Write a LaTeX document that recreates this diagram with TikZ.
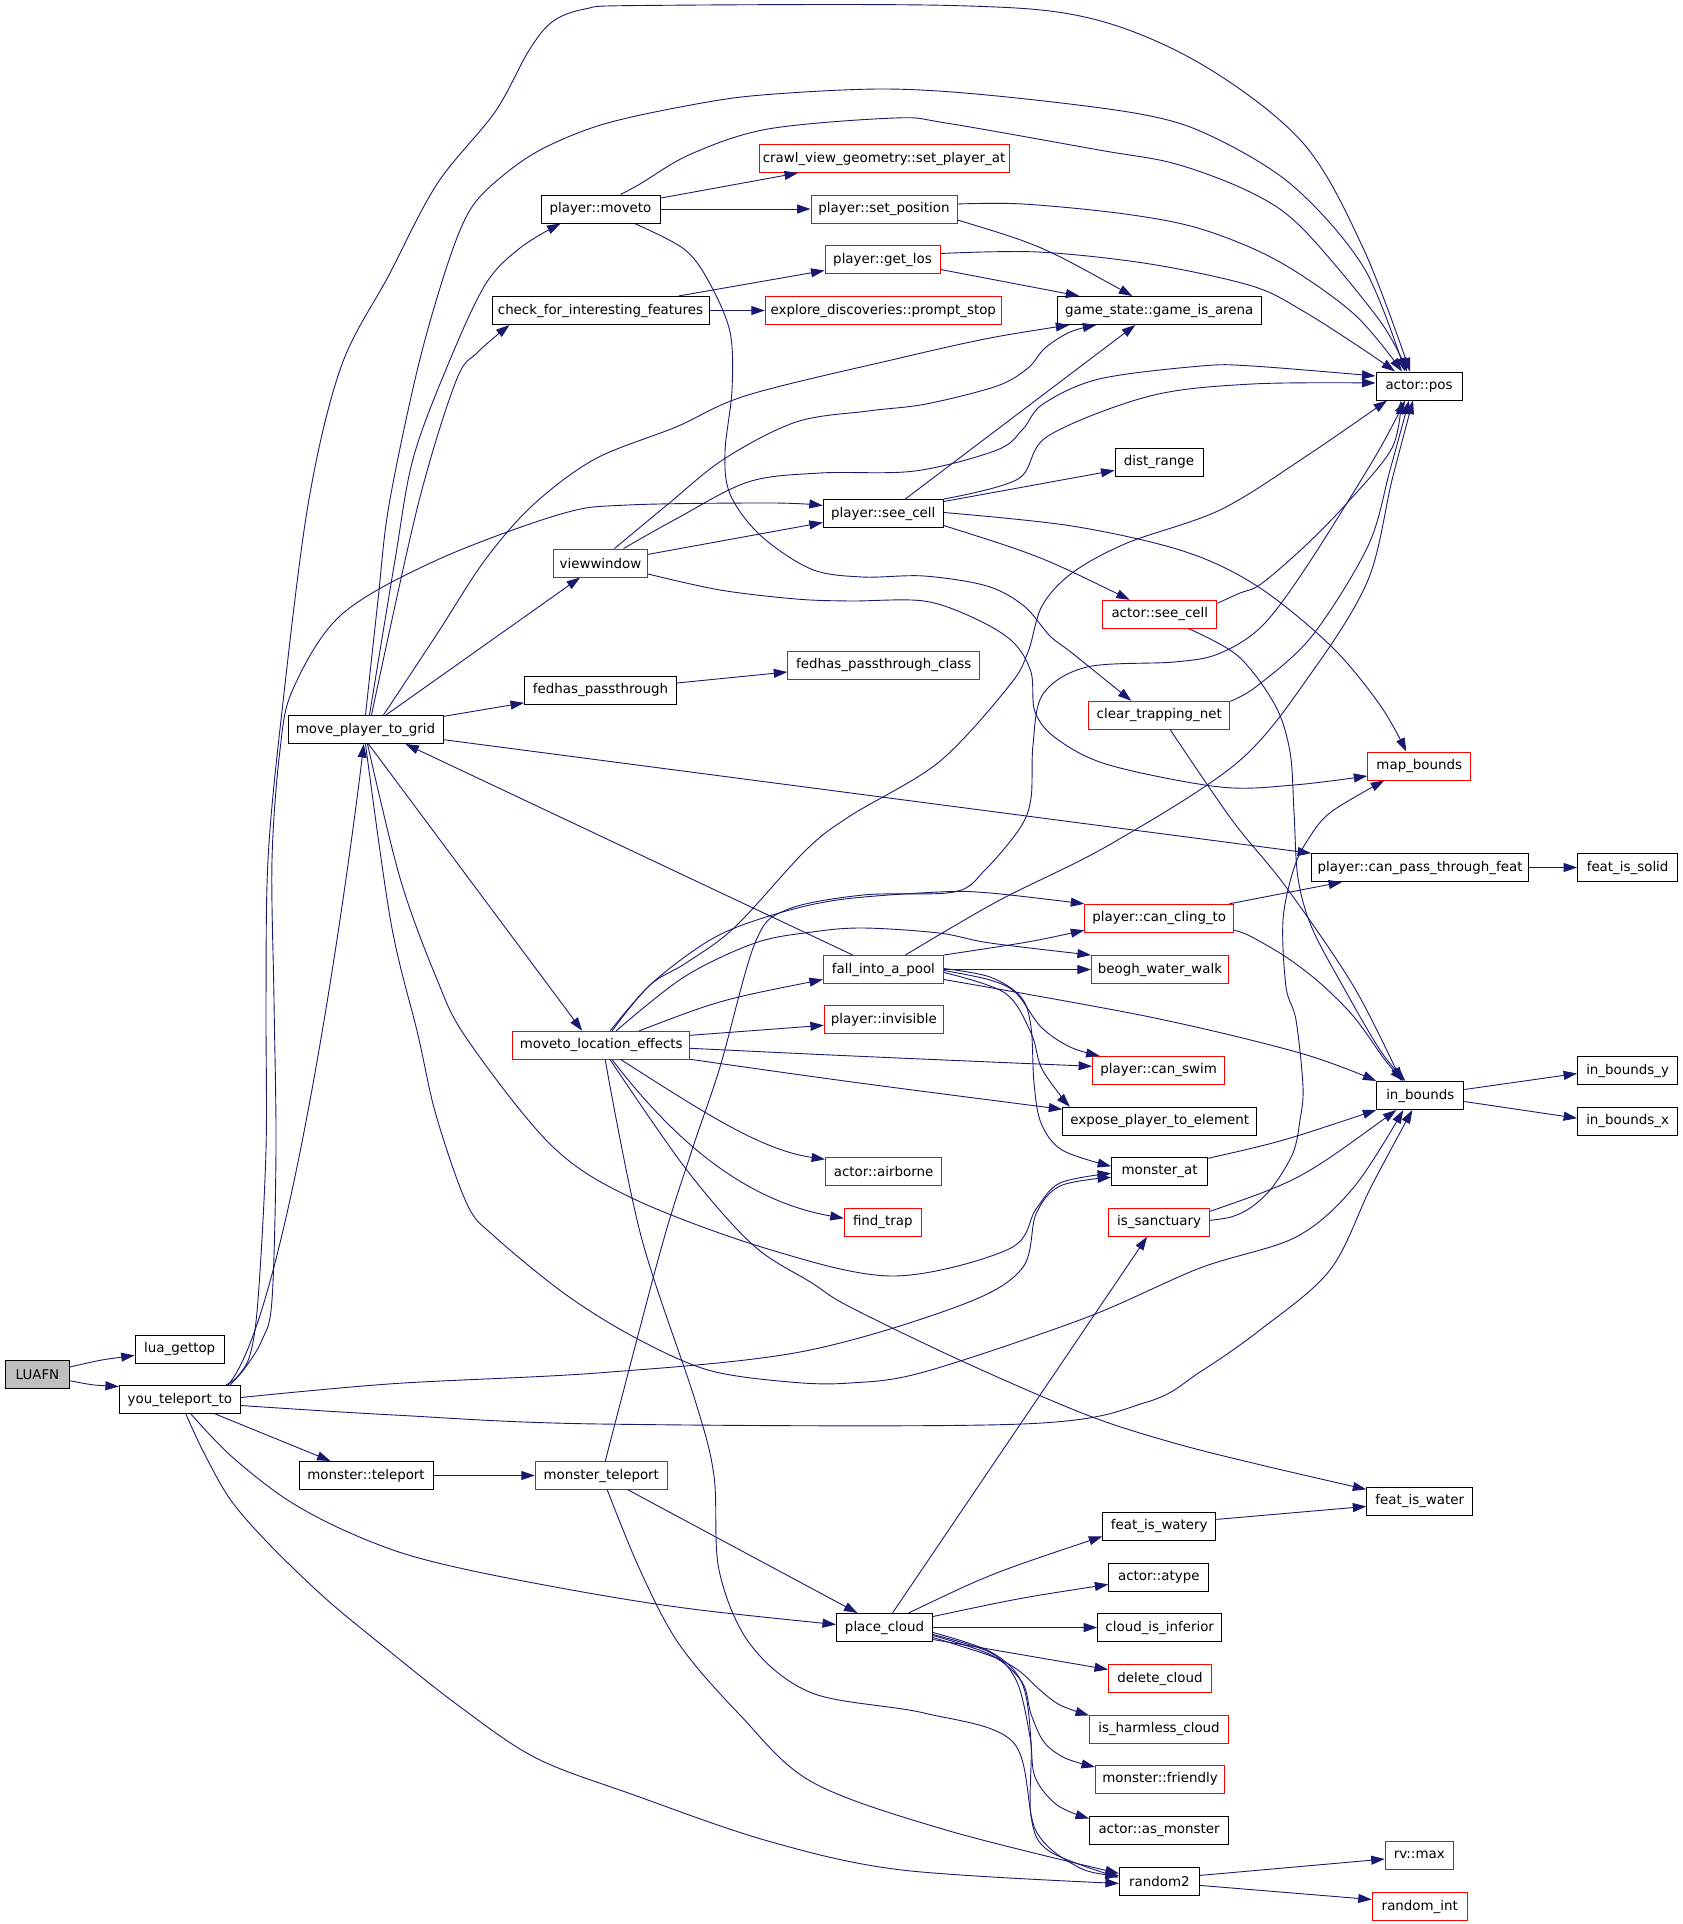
\documentclass[tikz,border=0pt]{standalone}
\usepackage{fontspec}
\newfontfamily\fnfont{DejaVu Sans}
\usetikzlibrary{arrows.meta}
\definecolor{edgeblue}{RGB}{25,25,112}
\definecolor{boxred}{RGB}{255,0,0}
\tikzset{
  fn/.style={draw=black, line width=1pt, minimum height=28pt, inner sep=0pt, text=black,
             font=\fnfont\fontsize{13.4}{15}\selectfont},
  rfn/.style={fn, draw=boxred},
  e/.style={draw=edgeblue, line width=0.9pt, -{Triangle[length=13.5pt,width=9pt]}},
  sm/.style={smooth, tension=0.55}
}
\begin{document}
\begin{tikzpicture}[x=1pt,y=-1pt]
\fill[white] (0,0) rectangle (1683,1924);
\useasboundingbox (0,0) rectangle (1683,1924);

% nodes
\node[fn, fill=black!25, minimum width=64pt] (LUAFN) at (37.5,1374.5) {LUAFN};
\node[fn, minimum width=89pt] (gettop) at (179.7,1349.4) {lua\_gettop};
\node[fn, minimum width=121pt] (ytele) at (179.9,1399.5) {you\_teleport\_to};
\node[fn, minimum width=134pt] (mtele) at (366,1475.5) {monster::teleport};
\node[rfn, minimum width=132pt] (mteleport) at (601.3,1475.5) {monster\_teleport};
\node[fn, minimum width=96pt] (place) at (884.5,1627.5) {place\_cloud};
\node[fn, minimum width=155pt] (mptg) at (365.5,729.5) {move\_player\_to\_grid};
\node[fn, minimum width=119pt] (moveto) at (600.5,209) {player::moveto};
\node[fn, minimum width=217pt] (cfif) at (600.5,310.5) {check\_for\_interesting\_features};
\node[rfn, minimum width=94pt] (viewwin) at (600.5,563) {viewwindow};
\node[fn, minimum width=152pt] (fedhas) at (600.5,690) {fedhas\_passthrough};
\node[rfn, minimum width=177pt] (mle) at (601.2,1045.3) {moveto\_location\_effects};
\node[rfn, minimum width=250pt] (cvg) at (884,158.5) {crawl\_view\_geometry::set\_player\_at};
\node[rfn, minimum width=146pt] (setpos) at (884,209) {player::set\_position};
\node[rfn, minimum width=115pt] (getlos) at (882.5,259.5) {player::get\_los};
\node[rfn, minimum width=236pt] (prompt) at (883.3,310.5) {explore\_discoveries::prompt\_stop};
\node[fn, minimum width=204pt] (arena) at (1159.3,310.5) {game\_state::game\_is\_arena};
\node[fn, minimum width=86pt] (pos) at (1419,386) {actor::pos};
\node[fn, minimum width=120pt] (seecell) at (883.3,513.5) {player::see\_cell};
\node[fn, minimum width=88pt] (dist) at (1159,462.4) {dist\_range};
\node[rfn, minimum width=114pt] (aseecell) at (1159.8,614.3) {actor::see\_cell};
\node[rfn, minimum width=192pt] (fpclass) at (883.8,665) {fedhas\_passthrough\_class};
\node[rfn, minimum width=141pt] (ctn) at (1159.3,715.3) {clear\_trapping\_net};
\node[rfn, minimum width=103pt] (mapb) at (1419.3,766) {map\_bounds};
\node[fn, minimum width=217pt] (cpf) at (1420.1,867.5) {player::can\_pass\_through\_feat};
\node[fn, minimum width=100pt] (solid) at (1627.6,867.5) {feat\_is\_solid};
\node[rfn, minimum width=149pt] (cling) at (1159.3,918.3) {player::can\_cling\_to};
\node[rfn, minimum width=120pt] (pool) at (883.4,969.5) {fall\_into\_a\_pool};
\node[rfn, minimum width=137pt] (beogh) at (1159.9,969.5) {beogh\_water\_walk};
\node[rfn, minimum width=119pt] (invis) at (883.9,1019.3) {player::invisible};
\node[rfn, minimum width=132pt] (swim) at (1158.6,1070.3) {player::can\_swim};
\node[fn, minimum width=194pt] (expose) at (1159.8,1121.3) {expose\_player\_to\_element};
\node[fn, minimum width=87pt] (inb) at (1420.3,1095.5) {in\_bounds};
\node[fn, minimum width=100pt] (inby) at (1627.6,1070.5) {in\_bounds\_y};
\node[fn, minimum width=100pt] (inbx) at (1627.6,1121.2) {in\_bounds\_x};
\node[rfn, minimum width=116pt] (airb) at (883.6,1171.3) {actor::airborne};
\node[fn, minimum width=96pt] (mat) at (1159.6,1171.3) {monster\_at};
\node[rfn, minimum width=77pt] (ftrap) at (882.8,1222.3) {find\_trap};
\node[rfn, minimum width=101pt] (sanct) at (1159.1,1222.3) {is\_sanctuary};
\node[fn, minimum width=106pt] (water) at (1419.8,1501.4) {feat\_is\_water};
\node[fn, minimum width=113pt] (watery) at (1159.3,1526.4) {feat\_is\_watery};
\node[fn, minimum width=100pt] (atype) at (1158.8,1577.4) {actor::atype};
\node[fn, minimum width=124pt] (inferior) at (1159.7,1627.5) {cloud\_is\_inferior};
\node[rfn, minimum width=103pt] (delcloud) at (1160,1678.5) {delete\_cloud};
\node[rfn, minimum width=139pt] (harmless) at (1159,1729.4) {is\_harmless\_cloud};
\node[rfn, minimum width=129pt] (friendly) at (1160,1779) {monster::friendly};
\node[fn, minimum width=139pt] (asmon) at (1159,1830.5) {actor::as\_monster};
\node[fn, minimum width=80pt] (random2) at (1159.4,1881.4) {random2};
\node[rfn, minimum width=68pt] (rvmax) at (1419.2,1855) {rv::max};
\node[rfn, minimum width=95pt] (rint) at (1419.8,1906.5) {random\_int};

% edges
\draw[e] (LUAFN) .. controls (100,1360) .. (gettop);
\draw[e] (LUAFN) .. controls (92,1385) .. ([yshift=13pt]ytele.west);
\draw[e] ([xshift=48pt]ytele.north) .. controls (285,1320) and (345,900) .. (mptg);
\draw[e] plot[sm] coordinates {([xshift=46pt]ytele.north) (237,1377) (250,1355) (258,1300) (266,1150) (266,1000) (268,860) (281,720) (308,505) (341,367) (389,275) (437,184) (495,112) (528,52) (552,22) (585,9) (640,5.5) (951,5.5) (1089,18) (1201,64) (1303,143) (1364,250) ([xshift=-9pt]pos.north)};
\draw[e] plot[sm] coordinates {([xshift=50pt]ytele.north) (245,1368) (262,1340) (272,1300) (276,1150) (274,1000) (272,860) (280,750) (293,689) (341,615) (437,560) (561,514) (628,505) (772,503) ([yshift=8pt]seecell.west)};
\draw[e] plot[sm] coordinates {([yshift=2pt]ytele.east) (394,1383.6) (600,1372.8) (800,1352) (960,1305.5) (1022,1268.5) (1036,1214) (1060,1186) ([yshift=-6pt]mat.west)};
\draw[e] plot[sm] coordinates {([yshift=-6pt]ytele.east) (394,1415) (600,1424) (1022,1424) (1147,1402) (1200,1372) (1260,1330) (1330,1270) (1371,1187) ([xshift=-8pt]inb.south)};
\draw[e] (ytele) -- (mtele);
\draw[e] plot[sm] coordinates {([xshift=11pt]ytele.south) (230,1455) (283,1497) (337,1527) (402,1553) (478,1572) (600,1595) (700,1610) ([yshift=3pt]place.west)};
\draw[e] plot[sm] coordinates {([xshift=6pt]ytele.south) (203,1451) (230,1499) (268,1543) (325,1598) (383,1646) (459,1706) (536,1758) (634,1795) (768,1841) (902,1870) ([yshift=-2pt]random2.west)};
\draw[e] (mtele) -- (mteleport);

\draw[e] plot[sm] coordinates {([xshift=4pt]mptg.north) (395,560) (413,459) (447,367) (485,285) (520,248) ([xshift=-40pt]moveto.south)};
\draw[e] plot[sm] coordinates {([xshift=6pt]mptg.north) (418,505) (456,381) (478,352) ([xshift=-91pt]cfif.south)};
\draw[e] plot[sm] coordinates {([xshift=18pt]mptg.north) (437,634) (485,560) (533,505) (595,459) (676,427) (748,395) (900,358) (990,338) ([xshift=-90pt]arena.south)};
\draw[e] (mptg) -- (viewwin);
\draw[e] (mptg) -- (fedhas);
\draw[e] plot[sm] coordinates {(mptg.north) (378,600) (389,505) (418,367) (447,266) (470,210) (500,178) (542,149) (604,124) (691,105) (762,95) (885,89) (997,96) (1140,114) (1211,136) (1293,186) (1364,268) ([xshift=-14pt]pos.north)};
\draw[e] (mptg) -- (cpf);
\draw[e] ([xshift=3pt]mptg.south) -- ([xshift=-19pt]mle.north);
\draw[e] plot[sm] coordinates {([xshift=2pt]mptg.south) (400,878) (436,977) (467,1039) (552,1146) (634,1199) (768,1249) (893,1276) (1009,1249) (1036,1209) (1060,1183) ([yshift=-2pt]mat.west)};
\draw[e] plot[sm] coordinates {(mptg.south) (391,923) (418,1035) (436,1115) (467,1204) (494,1236) (565,1294) (634,1337) (708,1370) (790,1382) (850,1383) (924,1372) (1085,1318) (1200,1268) (1296,1237) (1354,1187) ([xshift=-17pt]inb.south)};
\draw[e] (pool) -- ([xshift=40pt]mptg.south);

\draw[e] (moveto) -- ([xshift=-86pt]cvg.south);
\draw[e] (moveto) -- (setpos);
\draw[e] plot[sm] coordinates {([xshift=20pt]moveto.north) (640,184) (691,154) (768,129) (895,118) (946,123) (1099,150) (1176,164) (1252,193) (1303,229) (1380,321) ([xshift=-12pt]pos.north)};
\draw[e] plot[sm] coordinates {([xshift=34pt]moveto.south) (684,249) (709,282) (730,332) (732,390) (725,452) (730,494) (760,535) (811,569) (862,577) (924,576) (987,586) (1024,606) (1050,636) (1072,653) ([xshift=-28pt]ctn.north)};
\draw[e] plot[sm] coordinates {([yshift=5pt]setpos.east) (1023,204) (1125,214) (1201,229) (1278,261) (1354,314) ([xshift=-17pt]pos.north)};
\draw[e] ([yshift=-11pt]setpos.east) .. controls (1040,245) .. ([xshift=-27pt]arena.north);
\draw[e] plot[sm] coordinates {([yshift=6pt]getlos.east) (1038,252) (1150,264) (1252,286) (1303,311) (1364,350) ([xshift=-24pt]pos.north)};
\draw[e] ([yshift=-10pt]getlos.east) -- ([xshift=-80pt]arena.north);
\draw[e] ([xshift=78pt]cfif.north) -- ([yshift=-11pt]getlos.west);
\draw[e] (cfif) -- (prompt);

\draw[e] (viewwin) -- ([yshift=-9pt]seecell.west);
\draw[e] plot[sm] coordinates {([xshift=14pt]viewwin.north) (667,505) (724,459) (796,422) (868,411) (926,404) (997,386) (1028,368) (1045,348) (1070,332) ([xshift=-63pt]arena.south)};
\draw[e] plot[sm] coordinates {([xshift=23pt]viewwin.north) (676,519) (748,482) (820,473) (915,471) (997,450) (1023,429) (1043,404) (1099,379) (1201,366) (1252,366) ([yshift=10pt]pos.west)};
\draw[e] plot[sm] coordinates {([yshift=-11pt]viewwin.east) (720,590) (796,599) (850,601) (924,601) (976,619) (1013,642) (1031,672) (1035,712) (1057,739) (1109,765) (1220,787) (1294,785) ([yshift=-10pt]mapb.west)};

\draw[e] plot[sm] coordinates {(seecell.north east) (1018,479) (1048,436) (1150,396) (1252,384) ([yshift=3pt]pos.west)};
\draw[e] ([xshift=22pt]seecell.north) -- ([xshift=-24pt]arena.south);
\draw[e] ([yshift=12pt]seecell.east) -- ([yshift=-8pt]dist.west);
\draw[e] ([yshift=-12pt]seecell.east) .. controls (1040,556) .. ([xshift=-30pt]aseecell.north);
\draw[e] plot[sm] coordinates {([yshift=1pt]seecell.east) (1072,526) (1183,551) (1257,586) (1331,646) (1380,705) ([xshift=-13pt]mapb.north)};

\draw[e] plot[sm] coordinates {([yshift=11pt]aseecell.east) (1240,593) (1261,584) (1305,546) (1348,502) (1392,448) ([xshift=-18pt]pos.south)};
\draw[e] plot[sm] coordinates {([xshift=29pt]aseecell.south) (1238,656) (1275,705) (1290,752) (1294,812) (1298,878) (1312,928) (1345,990) (1380,1050) ([xshift=-15pt]inb.north)};
\draw[e] plot[sm] coordinates {([yshift=14pt]ctn.east) (1257,686) (1312,636) (1368,546) (1390,470) ([xshift=-10pt]pos.south)};
\draw[e] plot[sm] coordinates {([xshift=11pt]ctn.south) (1232,820) (1286,887) (1354,987) ([xshift=-19pt]inb.north)};

\draw[e] (cpf) -- (solid);
\draw[e] ([xshift=70pt]cling.north) -- ([xshift=-78pt]cpf.south);
\draw[e] plot[sm] coordinates {([yshift=-12pt]cling.east) (1250,936) (1286,957) (1320,983) (1354,1017) (1385,1060) ([xshift=-17pt]inb.north)};

\draw[e] (pool.north east) .. controls (1030,942) .. ([yshift=-12pt]cling.west);
\draw[e] (pool) -- (beogh);
\draw[e] plot[sm] coordinates {([yshift=-1pt]pool.east) (990,980) (1016,993) (1041,1027) (1070,1047) ([xshift=-59pt]swim.north)};
\draw[e] plot[sm] coordinates {([yshift=-3pt]pool.east) (1005,993) (1031,1033) (1041,1067) (1060,1095) ([xshift=-90pt]expose.north)};
\draw[e] plot[sm] coordinates {([yshift=1pt]pool.east) (990,977) (1021,997) (1031,1027) (1034,1083) (1041,1123) (1062,1150) ([yshift=5pt]mat.west)};
\draw[e] plot[sm] coordinates {([yshift=-10pt]pool.east) (1150,1017) (1300,1053) (inb.north west)};
\draw[e] plot[sm] coordinates {([xshift=22pt]pool.north) (998,901) (1109,845) (1238,762) (1312,672) (1368,580) (1392,480) ([xshift=-6pt]pos.south)};

\draw[e] (mle) .. controls (720,1000) .. ([yshift=-10pt]pool.west);
\draw[e] ([yshift=10pt]mle.east) -- ([yshift=-6pt]invis.west);
\draw[e] ([yshift=-3pt]mle.east) .. controls (850,1056) .. ([yshift=4pt]swim.west);
\draw[e] ([yshift=-14pt]mle.east) .. controls (850,1082) .. ([yshift=12pt]expose.west);
\draw[e] ([xshift=20pt]mle.south) .. controls (700,1110) and (760,1150) .. ([yshift=12pt]airb.west);
\draw[e] ([xshift=11pt]mle.south) .. controls (670,1135) and (740,1200) .. ([yshift=4pt]ftrap.west);
\draw[e] plot[sm] coordinates {([xshift=11pt]mle.north) (650,985) (710,940) (766,917) (837,900) (939,892) (990,893) (cling.north west)};
\draw[e] plot[sm] coordinates {([xshift=15pt]mle.north) (684,977) (755,943) (812,932) (863,928) (939,933) (990,943) (beogh.north west)};
\draw[e] plot[sm] coordinates {([xshift=9pt]mle.north) (650,985) (686,963) (735,927) (806,850) (850,816) (939,762) (1009,686) (1028,652) (1042,606) (1072,573) (1127,543) (1220,510) (1305,457) ([xshift=-32pt]pos.south)};
\draw[e] plot[sm] coordinates {([xshift=9pt]mle.south) (686,1169) (753,1245) (812,1283) (850,1307) (964,1362) (1087,1415) (1174,1443) (1261,1465) ([yshift=12pt]water.west)};
\draw[e] plot[sm] coordinates {([xshift=4pt]mle.south) (641,1236) (695,1400) (714,1476) (719,1570) (750,1644) (812,1693) (924,1713) (1013,1742) (1036,1831) (1080,1868) ([yshift=6pt]random2.west)};

\draw[e] (mteleport) -- (place);
\draw[e] plot[sm] coordinates {([xshift=6pt]mteleport.south) (640,1570) (679,1644) (740,1715) (812,1782) (946,1830) ([yshift=8pt]random2.west)};
\draw[e] plot[sm] coordinates {([xshift=4pt]mteleport.north) (661,1249) (692,1150) (720,1067) (755,943) (786,910) (863,895) (954,892) (985,870) (1020,828) (1031,798) (1033,745) (1043,694) (1087,667) (1174,662) (1218,654) (1261,627) (1305,569) (1375,457) ([xshift=-14pt]pos.south)};

\draw[e] ([xshift=8pt]place.north) -- ([xshift=-12pt]sanct.south);
\draw[e] ([xshift=24pt]place.north) .. controls (990,1574) .. ([yshift=-10pt]watery.west);
\draw[e] ([yshift=11pt]place.east) .. controls (1020,1598) .. ([yshift=-7pt]atype.west);
\draw[e] (place) -- (inferior);
\draw[e] ([yshift=-12pt]place.east) -- ([yshift=9pt]delcloud.west);
\draw[e] plot[sm] coordinates {([yshift=-10pt]place.east) (991,1656) (1018,1670) (1040,1690) (1060,1705) ([yshift=14pt]harmless.west)};
\draw[e] plot[sm] coordinates {([yshift=-8pt]place.east) (991,1655) (1022,1682) (1031,1714) (1044,1742) (1065,1758) ([yshift=12pt]friendly.west)};
\draw[e] plot[sm] coordinates {([yshift=-7pt]place.east) (991,1653) (1017,1682) (1030,1737) (1035,1777) (1057,1805) ([yshift=12pt]asmon.west)};
\draw[e] plot[sm] coordinates {([yshift=-5pt]place.east) (991,1652) (1022,1683) (1031,1742) (1031,1816) (1049,1851) ([yshift=4pt]random2.west)};

\draw[e] ([yshift=7pt]watery.east) -- ([yshift=-5pt]water.west);
\draw[e] ([yshift=6pt]random2.east) -- ([yshift=-4pt]rvmax.west);
\draw[e] ([yshift=-4pt]random2.east) -- ([yshift=7pt]rint.west);
\draw[e] ([yshift=13pt]mat.east) .. controls (1280,1142) .. (inb.south west);
\draw[e] ([yshift=11pt]sanct.east) .. controls (1300,1180) .. ([xshift=-24pt]inb.south);
\draw[e] plot[sm] coordinates {([yshift=2pt]sanct.east) (1232,1216.7) (1252,1206.7) (1272.5,1187) (1293,1153) (1300,1120) (1303,1087) (1296,1020) (1286,987) (1283,920) (1294,868) (1309,838) (1331,812) ([xshift=-35pt]mapb.south)};
\draw[e] ([yshift=6pt]inb.east) -- ([yshift=-3pt]inby.west);
\draw[e] ([yshift=-6pt]inb.east) -- ([yshift=3pt]inbx.west);
\draw[e] ([yshift=7pt]fedhas.east) -- ([yshift=-7pt]fpclass.west);
\end{tikzpicture}
\end{document}
